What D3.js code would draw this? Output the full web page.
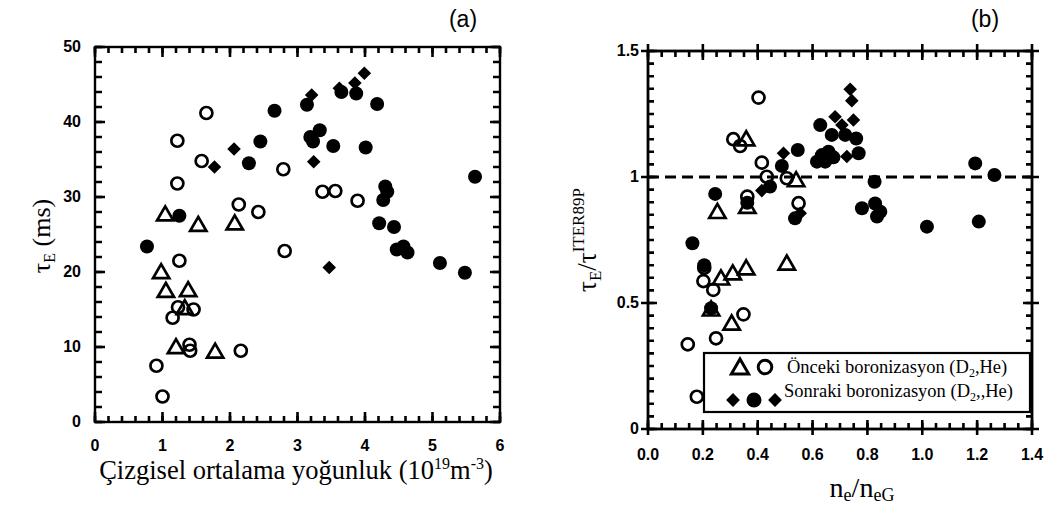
<!DOCTYPE html>
<html><head><meta charset="utf-8">
<script src="https://cdn.jsdelivr.net/npm/d3@7"></script>
<style>
html,body{margin:0;padding:0;background:#fff;}
svg{display:block;}
.tick-lbl{font-family:"Liberation Sans",Arial,sans-serif;font-weight:bold;font-size:16px;fill:#000;}
.serif{font-family:"Liberation Serif","Times New Roman",serif;fill:#000;}
</style></head>
<body>
<svg id="chart" width="1051" height="509"></svg>
<script>
// ---------- Panel (a) data ----------
const aTriX = [1.04, 1.53, 2.07, 0.98, 1.05, 1.38, 1.33, 1.20, 1.78];
const aTriY = [27.7, 26.3, 26.5, 20.0, 17.5, 17.6, 15.2, 10.0, 9.4];
const aOpenX = [1.65, 1.22, 1.58, 1.22, 2.13, 2.42, 2.79, 3.37, 3.56, 3.89, 2.81, 1.25, 1.23, 1.46, 1.15, 1.40, 1.41, 2.16, 0.91, 1.00];
const aOpenY = [41.2, 37.5, 34.8, 31.8, 29.0, 28.0, 33.7, 30.7, 30.8, 29.5, 22.8, 21.5, 15.3, 15.0, 13.9, 10.3, 9.5, 9.5, 7.5, 3.4];
const aDiaX = [1.77, 2.06, 3.21, 3.24, 3.99, 3.85, 3.62, 3.47];
const aDiaY = [34.0, 36.4, 43.6, 34.7, 46.5, 45.2, 44.5, 20.6];
const aFillX = [0.77, 1.25, 2.28, 2.45, 2.66, 3.14, 3.19, 3.33, 3.23, 3.53, 3.65, 3.87, 4.18, 4.01, 4.30, 4.33, 4.27, 4.21, 4.43, 4.47, 4.57, 4.63, 5.11, 5.48, 5.63];
const aFillY = [23.4, 27.5, 34.5, 37.4, 41.5, 42.3, 38.0, 38.9, 37.4, 36.8, 44.0, 43.8, 42.4, 36.6, 31.4, 30.7, 29.6, 26.5, 26.0, 23.0, 23.4, 22.6, 21.2, 19.9, 32.7];
const aXTicks = [0, 1, 2, 3, 4, 5, 6];
const aYTicks = [0, 10, 20, 30, 40, 50];

// ---------- Panel (b) data ----------
const bTriX = [0.358, 0.540, 0.253, 0.362, 0.266, 0.309, 0.358, 0.506, 0.230, 0.305];
const bTriY = [1.150, 0.988, 0.862, 0.882, 0.598, 0.618, 0.638, 0.657, 0.475, 0.419];
const bOpenX = [0.403, 0.311, 0.336, 0.415, 0.433, 0.506, 0.362, 0.549, 0.205, 0.202, 0.238, 0.348, 0.248, 0.145, 0.178];
const bOpenY = [1.315, 1.150, 1.123, 1.057, 1.001, 0.995, 0.922, 0.896, 0.640, 0.587, 0.552, 0.455, 0.360, 0.336, 0.128];
const bDiaX = [0.494, 0.415, 0.555, 0.682, 0.737, 0.743, 0.749, 0.707, 0.725];
const bDiaY = [1.094, 0.946, 0.856, 1.239, 1.348, 1.303, 1.226, 1.206, 1.081];
const bFillX = [0.488, 0.546, 0.445, 0.245, 0.362, 0.536, 0.628, 0.670, 0.658, 0.634, 0.616, 0.646, 0.676, 0.719, 0.759, 0.768, 0.826, 0.780, 0.828, 0.847, 0.835, 1.017, 1.193, 1.263, 1.206, 0.162, 0.205, 0.230];
const bFillY = [1.044, 1.107, 0.962, 0.933, 0.898, 0.836, 1.206, 1.167, 1.100, 1.087, 1.061, 1.061, 1.078, 1.167, 1.153, 1.094, 0.981, 0.876, 0.895, 0.862, 0.843, 0.803, 1.054, 1.008, 0.823, 0.737, 0.650, 0.479];
const bXTicks = [0, 0.2, 0.4, 0.6, 0.8, 1.0, 1.2, 1.4];
const bYTicks = [0, 0.5, 1, 1.5];
const refLine = 1;
const legendLabels = ["Önceki boronizasyon (D", "Sonraki boronizasyon (D"];

const svg = d3.select("#chart");

function zip(xs, ys){ return xs.map((x,i)=>({x:x, y:ys[i]})); }

function drawMarks(g, s, sx, sy){
  g.selectAll(null).data(zip(s.tri[0], s.tri[1])).enter().append("path")
    .attr("d", d3.symbol().type(d3.symbolTriangle).size(115))
    .attr("transform", d=>`translate(${sx(d.x)},${sy(d.y)+1.5})`)
    .attr("fill","none").attr("stroke","#000").attr("stroke-width",2.7);
  g.selectAll(null).data(zip(s.open[0], s.open[1])).enter().append("circle")
    .attr("cx", d=>sx(d.x)).attr("cy", d=>sy(d.y)).attr("r",6)
    .attr("fill","none").attr("stroke","#000").attr("stroke-width",2.7);
  g.selectAll(null).data(zip(s.dia[0], s.dia[1])).enter().append("path")
    .attr("d", d3.symbol().type(d3.symbolSquare).size(92))
    .attr("transform", d=>`translate(${sx(d.x)},${sy(d.y)}) rotate(45)`)
    .attr("fill","#000");
  g.selectAll(null).data(zip(s.fill[0], s.fill[1])).enter().append("circle")
    .attr("cx", d=>sx(d.x)).attr("cy", d=>sy(d.y)).attr("r",7)
    .attr("fill","#000");
}

// tick marks built as one path each
function hTicks(g, sx, vals, yPos, a, b){
  const p = d3.path();
  vals.forEach(v => { const x = sx(v); p.moveTo(x, yPos + a); p.lineTo(x, yPos + b); });
  g.append("path").attr("d", p.toString()).attr("fill","none")
    .attr("stroke","#000").attr("stroke-width",2.6);
}
function vTicks(g, sy, vals, xPos, a, b){
  const p = d3.path();
  vals.forEach(v => { const y = sy(v); p.moveTo(xPos + a, y); p.lineTo(xPos + b, y); });
  g.append("path").attr("d", p.toString()).attr("fill","none")
    .attr("stroke","#000").attr("stroke-width",2.6);
}

// ================= Panel (a) =================
const ax = d3.scaleLinear().domain([0,6]).range([95,500]);
const ay = d3.scaleLinear().domain([0,50]).range([422,47]);
const ga = svg.append("g");

const aXMinor = d3.range(0, 6.0001, 0.2);
const aYMinor = d3.range(0, 50.0001, 2);
const aL = ax(0), aR = ax(6), aB = ay(0), aT = ay(50);
hTicks(ga, ax, aXMinor, aB, 0, -6);
hTicks(ga, ax, aXTicks, aB, 0, -10);
hTicks(ga, ax, aXMinor, aT, 0, 6);
hTicks(ga, ax, aXTicks, aT, 0, 10);
vTicks(ga, ay, aYMinor, aL, 0, 7);
vTicks(ga, ay, aYTicks, aL, 0, 10);
vTicks(ga, ay, aYMinor, aR, 0, -7);
vTicks(ga, ay, aYTicks, aR, 0, -10);
ga.append("rect").attr("x",aL).attr("y",aT).attr("width",aR-aL).attr("height",aB-aT)
  .attr("fill","none").attr("stroke","#000").attr("stroke-width",2.4);

ga.selectAll(null).data(aXTicks).enter().append("text").attr("class","tick-lbl")
  .attr("x",d=>ax(d)).attr("y",451).attr("text-anchor","middle").text(d=>d);
ga.selectAll(null).data(aYTicks).enter().append("text").attr("class","tick-lbl")
  .attr("x",81).attr("y",d=>ay(d)+5).attr("text-anchor","end").text(d=>d);

drawMarks(ga, {tri:[aTriX,aTriY], open:[aOpenX,aOpenY], dia:[aDiaX,aDiaY], fill:[aFillX,aFillY]}, ax, ay);

ga.append("text").attr("x",463).attr("y",27).attr("text-anchor","middle")
  .style("font-family","Liberation Sans, Arial, sans-serif").style("font-size","23px").text("(a)");
const xla = ga.append("text").attr("class","serif").attr("x",296).attr("y",479)
  .attr("text-anchor","middle").style("font-size","26.5px");
xla.append("tspan").text("Çizgisel ortalama yoğunluk (10");
xla.append("tspan").attr("dy",-10).style("font-size","16px").text("19");
xla.append("tspan").attr("dy",10).text("m");
xla.append("tspan").attr("dy",-10).style("font-size","16px").text("-3");
xla.append("tspan").attr("dy",10).text(")");
const yla = ga.append("text").attr("class","serif")
  .attr("transform","translate(50,236) rotate(-90)").attr("text-anchor","middle").style("font-size","26px");
yla.append("tspan").text("τ");
yla.append("tspan").attr("dy",5).style("font-size","16px").text("E");
yla.append("tspan").attr("dy",-5).text(" (ms)");

// ================= Panel (b) =================
const bx = d3.scaleLinear().domain([0,1.4]).range([648,1032]);
const by = d3.scaleLinear().domain([0,1.5]).range([429,51]);
const gb = svg.append("g");

const bXMinor = d3.range(0, 1.40001, 0.05);
const bYMinor = d3.range(0, 1.50001, 0.05);
const bL = bx(0), bR = bx(1.4), bB = by(0), bT = by(1.5);
hTicks(gb, bx, bXMinor, bB, 0, -6);
hTicks(gb, bx, bXTicks, bB, 6, -9);
hTicks(gb, bx, bXMinor, bT, 0, 6);
hTicks(gb, bx, bXTicks, bT, -7, 9);
vTicks(gb, by, bYMinor, bL, 0, 6);
vTicks(gb, by, bYTicks, bL, -7, 9);
vTicks(gb, by, bYMinor, bR, 0, -6);
vTicks(gb, by, bYTicks, bR, 7, -9);
gb.append("rect").attr("x",bL).attr("y",bT).attr("width",bR-bL).attr("height",bB-bT)
  .attr("fill","none").attr("stroke","#000").attr("stroke-width",2.8);

gb.append("line").attr("x1",bx(0)).attr("x2",bx(1.4)).attr("y1",by(refLine)).attr("y2",by(refLine))
  .attr("stroke","#000").attr("stroke-width",2.8).attr("stroke-dasharray","11,6");

gb.selectAll(null).data(bXTicks).enter().append("text").attr("class","tick-lbl")
  .attr("x",d=>bx(d)).attr("y",460).attr("text-anchor","middle").text(d=>d.toFixed(1));
gb.selectAll(null).data(bYTicks).enter().append("text").attr("class","tick-lbl")
  .attr("x",639).attr("y",d=>by(d)+5).attr("text-anchor","end").text(d=>d);

drawMarks(gb, {tri:[bTriX,bTriY], open:[bOpenX,bOpenY], dia:[bDiaX,bDiaY], fill:[bFillX,bFillY]}, bx, by);

// legend
const lg = gb.append("g");
lg.append("rect").attr("x",704).attr("y",353).attr("width",326).attr("height",59)
  .attr("fill","#fff").attr("stroke","#000").attr("stroke-width",2.2);
lg.append("path").attr("d", d3.symbol().type(d3.symbolTriangle).size(130))
  .attr("transform","translate(740,369)").attr("fill","none").attr("stroke","#000").attr("stroke-width",3);
lg.append("circle").attr("cx",765).attr("cy",367).attr("r",6.8).attr("fill","none").attr("stroke","#000").attr("stroke-width",3);
lg.append("path").attr("d", d3.symbol().type(d3.symbolSquare).size(95))
  .attr("transform","translate(733,400) rotate(45)").attr("fill","#000");
lg.append("circle").attr("cx",754).attr("cy",400).attr("r",7.5).attr("fill","#000");
lg.append("path").attr("d", d3.symbol().type(d3.symbolSquare).size(95))
  .attr("transform","translate(775,400) rotate(45)").attr("fill","#000");
const t1 = lg.append("text").attr("class","serif").attr("x",787).attr("y",373).style("font-size","18.5px");
t1.append("tspan").text(legendLabels[0]);
t1.append("tspan").attr("dy",4).style("font-size","12px").text("2");
t1.append("tspan").attr("dy",-4).text(",He)");
const t2 = lg.append("text").attr("class","serif").attr("x",784).attr("y",397).style("font-size","18.5px");
t2.append("tspan").text(legendLabels[1]);
t2.append("tspan").attr("dy",4).style("font-size","12px").text("2");
t2.append("tspan").attr("dy",-4).text(",,He)");

gb.append("text").attr("x",985).attr("y",27).attr("text-anchor","middle")
  .style("font-family","Liberation Sans, Arial, sans-serif").style("font-size","23px").text("(b)");
const xlb = gb.append("text").attr("class","serif").attr("x",862).attr("y",497)
  .attr("text-anchor","middle").style("font-size","28px");
xlb.append("tspan").text("n");
xlb.append("tspan").attr("dy",4).style("font-size","18px").text("e");
xlb.append("tspan").attr("dy",-4).text("/n");
xlb.append("tspan").attr("dy",4).style("font-size","18px").text("eG");
const ylb = gb.append("text").attr("class","serif")
  .attr("transform","translate(596,240) rotate(-90)").attr("text-anchor","middle").style("font-size","27px");
ylb.append("tspan").text("τ");
ylb.append("tspan").attr("dy",5).style("font-size","17px").text("E");
ylb.append("tspan").attr("dy",-5).text("/τ");
ylb.append("tspan").attr("dy",-12).style("font-size","17px").text("ITER89P");
</script>
</body></html>
